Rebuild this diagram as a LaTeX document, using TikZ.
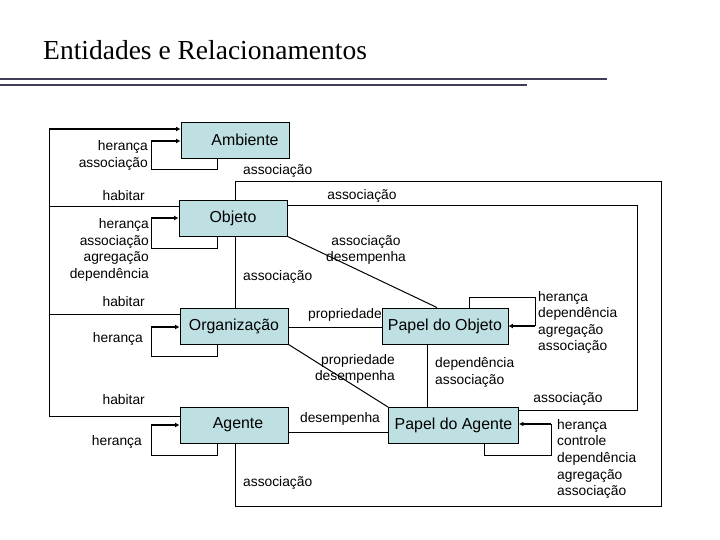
\documentclass[tikz,border=0pt]{standalone}
\usepackage{fontspec}
\setmainfont{Liberation Sans}
\newfontfamily\titlefont{Liberation Serif}
\usetikzlibrary{arrows.meta}
\definecolor{boxfill}{RGB}{191,224,227}
\definecolor{rulecol}{RGB}{62,62,88}
\begin{document}
\begin{tikzpicture}[x=1pt,y=-1pt,
  box/.style={draw=black,line width=0.9pt,fill=boxfill,minimum height=36pt,inner sep=0pt,
    font=\fontsize{15.9}{18}\selectfont},
  lbl/.style={inner sep=0pt,font=\fontsize{13.8}{16.6}\selectfont,text height=10pt,text depth=3pt},
  mlbl/.style={inner sep=0pt,font=\fontsize{13.8}{16.6}\selectfont},
  conn/.style={line width=1pt},
  arr/.style={line width=2pt,-{Latex[length=4.5pt,width=5pt]}},
  titlerule/.style={draw=rulecol,line width=1.4pt}]
\useasboundingbox[fill=white] (0,0) rectangle (720,540);

% title
\node[anchor=base west,inner sep=0pt,font=\titlefont\fontsize{27.5}{30}\selectfont] (title) at (43,60) {Entidades e Relacionamentos};
\draw[titlerule] (0,79) -- (607,79);
\draw[titlerule] (0,85) -- (527,85);

% boxes
\node[box,minimum width=108pt] (amb) at (235,140) {\hspace*{20pt}Ambiente};
\node[box,minimum width=108pt] (obj) at (233,218) {Objeto};
\node[box,minimum width=108pt] (org) at (234,326) {Organização};
\node[box,minimum width=108pt] (age) at (234,425) {\hspace*{8pt}Agente};
\node[box,minimum width=126pt] (pdo) at (445,326) {Papel do Objeto};
\node[box,minimum width=130pt] (pda) at (453.5,425.5) {Papel do Agente};

% habitar
\draw[conn] (age.west |- 0,416) -- (49,416) -- (49,129);
\draw[conn] (org.west |- 0,314) -- (49,314);
\draw[conn] (obj.west |- 0,207) -- (49,207);
\draw[arr] (49,129) -- (amb.west |- 0,129);

% self loops
\draw[conn] (217,0 |- amb.south) -- (217,170) -- (151,170) -- (151,141);
\draw[arr] (151,141) -- (amb.west |- 0,141);
\draw[conn] (217,0 |- obj.south) -- (217,248) -- (151,248) -- (151,218);
\draw[arr] (151,218) -- (obj.west |- 0,218);
\draw[conn] (217,0 |- org.south) -- (217,356) -- (151,356) -- (151,327);
\draw[arr] (151,327) -- (org.west |- 0,327);
\draw[conn] (217,0 |- age.south) -- (217,455) -- (151,455) -- (151,425);
\draw[arr] (151,425) -- (age.west |- 0,425);
\draw[conn] (469,0 |- pdo.north) -- (469,297) -- (535,297) -- (535,326);
\draw[arr] (535,326) -- (pdo.east |- 0,326);
\draw[conn] (484,0 |- pda.south) -- (484,455) -- (551,455) -- (551,424);
\draw[arr] (551,424) -- (pda.east |- 0,424);

% associations
\draw[conn] (235,0 |- obj.north) -- (235,182) -- (661,182) -- (661,506) -- (235,506) -- (235,0 |- age.south);
\draw[conn] (obj.east |- 0,206) -- (637,206) -- (637,410) -- (pda.east |- 0,410);
\draw[conn] (235,0 |- obj.south) -- (235,0 |- org.north);
\draw[conn] (obj.south east) -- (437,0 |- pdo.north);
\draw[conn] (org.east |- 0,327) -- (pdo.west |- 0,327);
\draw[conn] (org.south east) -- (pda.north west);
\draw[conn] (age.east |- 0,432) -- (pda.west |- 0,432);
\draw[conn] (427,0 |- pdo.south) -- (427,0 |- pda.north);

% labels
\node[mlbl,align=right,anchor=east] (l1) at (148,155.5) {herança\\associação};
\node[mlbl,align=right,anchor=east] (l2) at (149,250) {herança\\associação\\agregação\\dependência};
\node[lbl,anchor=east] (h1) at (145,197) {habitar};
\node[lbl,anchor=east] (h2) at (145,303) {habitar};
\node[lbl,anchor=east] (h3) at (145,401) {habitar};
\node[lbl,anchor=east] (l3) at (143,339) {herança};
\node[lbl,anchor=east] (l4) at (142,442) {herança};
\node[lbl,anchor=west] (a1) at (243,171) {associação};
\node[lbl,anchor=west] (a2) at (243,277) {associação};
\node[lbl,anchor=west] (a3) at (243,483) {associação};
\node[lbl] (a4) at (362,196) {associação};
\node[mlbl,align=center] (a5) at (366,250) {associação\\desempenha};
\node[lbl,anchor=west] (p1) at (308,315) {propriedade};
\node[mlbl,align=right,anchor=east] (p2) at (395,369) {propriedade\\desempenha};
\node[lbl] (d1) at (340,419) {desempenha};
\node[mlbl,align=left,anchor=west] (d2) at (435,372.5) {dependência\\associação};
\node[lbl] (a6) at (568,399) {associação};
\node[mlbl,align=left,anchor=west] (r1) at (538,322.5) {herança\\dependência\\agregação\\associação};
\node[mlbl,align=left,anchor=west] (r2) at (557,459) {herança\\controle\\dependência\\agregação\\associação};
\end{tikzpicture}
\end{document}
